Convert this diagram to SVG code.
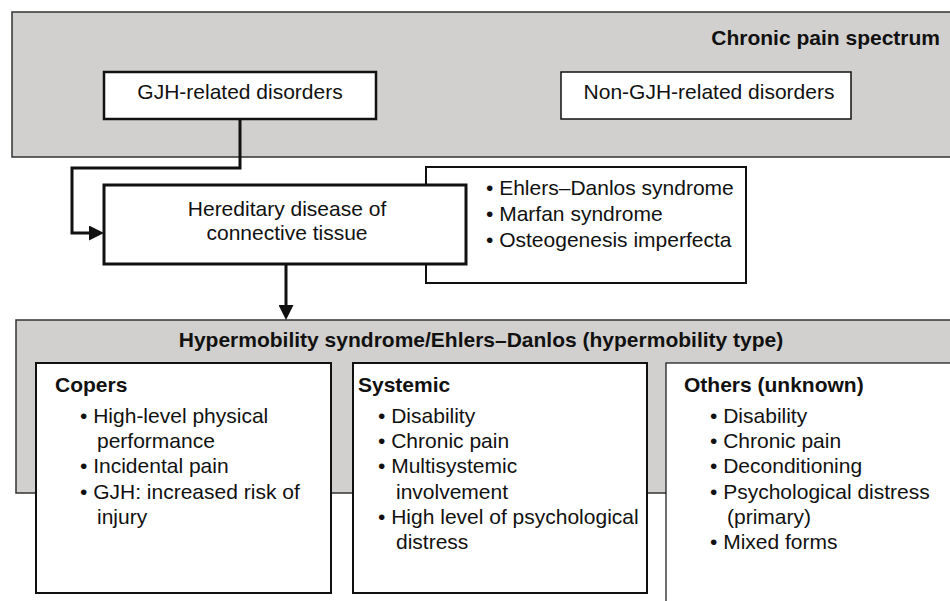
<svg xmlns="http://www.w3.org/2000/svg" width="950" height="601" viewBox="0 0 950 601">
<defs>
<style>
text{font-family:"Liberation Sans",Arial,sans-serif;font-size:21px;fill:#111}
.b{font-weight:bold}
.m{text-anchor:middle}
.gray{fill:#d1d0ce;stroke:#333;stroke-width:1.5}
.box{fill:#fff;stroke:#111}
.conn{fill:none;stroke:#111;stroke-width:3}
</style>
<marker id="ah" viewBox="0 0 15 15" refX="0" refY="7.5" markerWidth="15" markerHeight="15" markerUnits="userSpaceOnUse" orient="auto">
<path d="M0,0 L15,7.5 L0,15 z" fill="#111"/>
</marker>
</defs>

<g id="chronic-pain-spectrum">
<rect class="gray" x="12" y="12" width="960" height="145"/>
<text class="b" x="940" y="45" text-anchor="end">Chronic pain spectrum</text>
</g>

<g id="gjh-related">
<rect class="box" x="104" y="72" width="272" height="47" stroke-width="2.5"/>
<text class="m" x="240" y="99">GJH-related disorders</text>
</g>

<g id="non-gjh-related">
<rect class="box" x="561" y="72" width="290" height="47" stroke-width="1.5"/>
<text class="m" x="709" y="99">Non-GJH-related disorders</text>
</g>

<g id="hdct-examples">
<rect class="box" x="426" y="167" width="320" height="116" stroke-width="2"/>
<text x="486" y="195">• Ehlers–Danlos syndrome</text>
<text x="486" y="221">• Marfan syndrome</text>
<text x="486" y="247">• Osteogenesis imperfecta</text>
</g>

<g id="hereditary">
<rect class="box" x="104" y="185" width="362" height="79" stroke-width="3"/>
<text class="m" x="287" y="216">Hereditary disease of</text>
<text class="m" x="287" y="240">connective tissue</text>
</g>

<g id="hypermobility">
<rect class="gray" x="16" y="320" width="960" height="173"/>
<text class="b m" x="481" y="347">Hypermobility syndrome/Ehlers–Danlos (hypermobility type)</text>
</g>

<g id="copers">
<rect class="box" x="36" y="363" width="295" height="230" stroke-width="2"/>
<text class="b" x="55" y="392">Copers</text>
<text x="80" y="423">• High-level physical</text>
<text x="97" y="448">performance</text>
<text x="80" y="473">• Incidental pain</text>
<text x="80" y="499">• GJH: increased risk of</text>
<text x="97" y="524">injury</text>
</g>

<g id="systemic">
<rect class="box" x="353" y="363" width="294" height="230" stroke-width="2"/>
<text class="b" x="358" y="392">Systemic</text>
<text x="378" y="423">• Disability</text>
<text x="378" y="448">• Chronic pain</text>
<text x="378" y="473">• Multisystemic</text>
<text x="396" y="499">involvement</text>
<text x="378" y="524">• High level of psychological</text>
<text x="396" y="549">distress</text>
</g>

<g id="others">
<rect class="box" x="666" y="363" width="320" height="260" stroke-width="1.2"/>
<text class="b" x="684" y="392">Others (unknown)</text>
<text x="710" y="423">• Disability</text>
<text x="710" y="448">• Chronic pain</text>
<text x="710" y="473">• Deconditioning</text>
<text x="710" y="499">• Psychological distress</text>
<text x="727" y="524">(primary)</text>
<text x="710" y="549">• Mixed forms</text>
</g>

<g id="connectors">
<path class="conn" d="M240,119 V168 H72 V233 H89" marker-end="url(#ah)"/>
<path class="conn" d="M286,264 V305" marker-end="url(#ah)"/>
</g>
</svg>
